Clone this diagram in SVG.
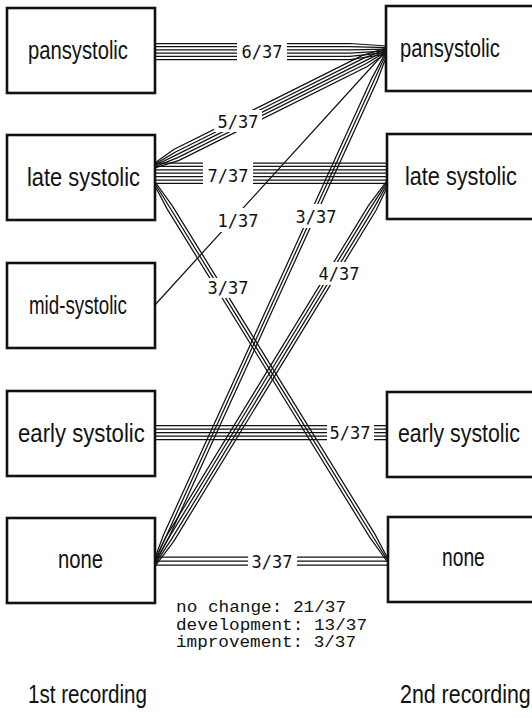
<svg xmlns="http://www.w3.org/2000/svg" width="532" height="718" viewBox="0 0 532 718">
<style>
.box{fill:#fff;stroke:#111;stroke-width:2.6}
.lab{font-family:"Liberation Sans",Arial,sans-serif;font-size:25px;fill:#111}
.num{font-family:"DejaVu Sans Mono","Liberation Mono",monospace;font-size:17px;fill:#111;text-anchor:middle}
.note{font-family:"Liberation Mono","Courier New",monospace;font-size:16px;fill:#111}
.ln{fill:none;stroke:#111;stroke-width:1.25}
</style>
<defs>
<mask id="gaps" maskUnits="userSpaceOnUse" x="0" y="0" width="532" height="718">
<rect x="0" y="0" width="532" height="718" fill="#fff"/>
<rect x="237" y="38" width="50" height="28" fill="#000"/>
<rect x="214" y="110" width="48" height="22" fill="#000"/>
<rect x="203" y="158" width="50" height="30" fill="#000"/>
<rect x="214" y="208" width="48" height="24" fill="#000"/>
<rect x="293" y="204" width="47" height="24" fill="#000"/>
<rect x="204" y="278" width="48" height="20" fill="#000"/>
<rect x="314" y="262" width="50" height="23" fill="#000"/>
<rect x="327" y="420" width="47" height="25" fill="#000"/>
<rect x="248" y="552" width="49" height="18" fill="#000"/>
</mask>
</defs>
<rect width="532" height="718" fill="#fff"/>
<g id="connectors">
<g mask="url(#gaps)">
<!-- 6/37 pansystolic -> pansystolic -->
<polyline class="ln" points="154,43.5 350,43.5 387,46"/>
<polyline class="ln" points="154,46.7 350,46.7 387,47.6"/>
<polyline class="ln" points="154,49.9 350,49.9 387,49.2"/>
<polyline class="ln" points="154,53.1 350,53.1 387,50.8"/>
<polyline class="ln" points="154,56.3 350,56.3 387,52.4"/>
<polyline class="ln" points="154,59.5 350,59.5 387,54"/>
<!-- 5/37 late -> pansystolic -->
<polyline class="ln" points="153.1,164.2 173.7,149.5 361.9,55.7 386.1,48.2"/>
<polyline class="ln" points="153.55,165.1 175.1,152.2 363.3,58.4 386.55,49.1"/>
<polyline class="ln" points="154,166 176.4,154.9 364.6,61.1 387,50"/>
<polyline class="ln" points="154.45,166.9 177.7,157.6 365.9,63.8 387.45,50.9"/>
<polyline class="ln" points="154.9,167.8 179.1,160.3 367.3,66.5 387.9,51.8"/>
<!-- 7/37 late -> late -->
<line class="ln" x1="154" y1="163" x2="388" y2="163"/>
<line class="ln" x1="154" y1="166.4" x2="388" y2="166.4"/>
<line class="ln" x1="154" y1="169.8" x2="388" y2="169.8"/>
<line class="ln" x1="154" y1="173.2" x2="388" y2="173.2"/>
<line class="ln" x1="154" y1="176.6" x2="388" y2="176.6"/>
<line class="ln" x1="154" y1="180" x2="388" y2="180"/>
<line class="ln" x1="154" y1="183.4" x2="388" y2="183.4"/>
<!-- 1/37 mid -> pansystolic -->
<line class="ln" x1="154" y1="306" x2="387" y2="50"/>
<!-- 3/37 none -> pansystolic -->
<polyline class="ln" points="153.1,562.6 163.7,534.5 371.9,78.1 386.1,51.6"/>
<polyline class="ln" points="154,563 166.4,535.7 374.6,79.3 387,52"/>
<polyline class="ln" points="154.9,563.4 169.1,536.9 377.3,80.5 387.9,52.4"/>
<!-- 4/37 none -> late -->
<polyline class="ln" points="152.7,564.2 165.8,537.1 368.6,205.3 386.7,181.2"/>
<polyline class="ln" points="153.6,564.7 168.3,538.6 371.1,206.8 387.6,181.7"/>
<polyline class="ln" points="154.4,565.3 170.9,540.2 373.7,208.4 388.4,182.3"/>
<polyline class="ln" points="155.3,565.8 173.4,541.8 376.2,210 389.3,182.8"/>
<!-- 3/37 late -> none -->
<polyline class="ln" points="154.85,181.5 172.35,205.9 374.75,533.9 388.85,560.5"/>
<polyline class="ln" points="154,182 169.8,207.5 372.2,535.5 388,561"/>
<polyline class="ln" points="153.15,182.5 167.25,209.1 369.65,537.1 387.15,561.5"/>
<!-- 5/37 early -> early -->
<line class="ln" x1="154" y1="425.5" x2="388" y2="425.5"/>
<line class="ln" x1="154" y1="429" x2="388" y2="429"/>
<line class="ln" x1="154" y1="432.5" x2="388" y2="432.5"/>
<line class="ln" x1="154" y1="436" x2="388" y2="436"/>
<line class="ln" x1="154" y1="439.5" x2="388" y2="439.5"/>
<!-- 3/37 none -> none -->
<line class="ln" x1="154" y1="557" x2="388" y2="557"/>
<line class="ln" x1="154" y1="561" x2="388" y2="561"/>
<line class="ln" x1="154" y1="565" x2="388" y2="565"/>
</g>
<g id="connector-labels">
<text class="num" x="262" y="57.5">6/37</text>
<text class="num" x="238" y="128">5/37</text>
<text class="num" x="228" y="182">7/37</text>
<text class="num" x="238" y="227">1/37</text>
<text class="num" x="316" y="223">3/37</text>
<text class="num" x="228" y="294">3/37</text>
<text class="num" x="339" y="280">4/37</text>
<text class="num" x="350" y="439">5/37</text>
<text class="num" x="272" y="568">3/37</text>
</g>
</g>
<g id="first-pansystolic"><rect class="box" x="7" y="8" width="148" height="85"/><text class="lab" transform="translate(28,59) scale(0.809,1)">pansystolic</text></g>
<g id="first-late-systolic"><rect class="box" x="7" y="135" width="148" height="85"/><text class="lab" transform="translate(27,186) scale(0.875,1)">late systolic</text></g>
<g id="first-mid-systolic"><rect class="box" x="7" y="263" width="148" height="85"/><text class="lab" transform="translate(29,314) scale(0.75,1)">mid-systolic</text></g>
<g id="first-early-systolic"><rect class="box" x="7" y="391" width="148" height="85"/><text class="lab" transform="translate(18,442) scale(0.887,1)">early systolic</text></g>
<g id="first-none"><rect class="box" x="7" y="518" width="148" height="85"/><text class="lab" transform="translate(58,568) scale(0.81,1)">none</text></g>
<g id="second-pansystolic"><rect class="box" x="386" y="6" width="170" height="85"/><text class="lab" transform="translate(400,57) scale(0.809,1)">pansystolic</text></g>
<g id="second-late-systolic"><rect class="box" x="387" y="134" width="170" height="85"/><text class="lab" transform="translate(405,185) scale(0.867,1)">late systolic</text></g>
<g id="second-early-systolic"><rect class="box" x="387" y="392" width="170" height="85"/><text class="lab" transform="translate(398,442) scale(0.853,1)">early systolic</text></g>
<g id="second-none"><rect class="box" x="388" y="517" width="170" height="85"/><text class="lab" transform="translate(442,566) scale(0.77,1)">none</text></g>
<g id="summary">
<text class="note" x="176" y="612" textLength="170" lengthAdjust="spacingAndGlyphs">no change: 21/37</text>
<text class="note" x="176" y="629.5" textLength="191" lengthAdjust="spacingAndGlyphs">development: 13/37</text>
<text class="note" x="176" y="647" textLength="180" lengthAdjust="spacingAndGlyphs">improvement: 3/37</text>
</g>
<g id="axis-labels">
<text class="lab" transform="translate(28,703) scale(0.824,1)">1st recording</text>
<text class="lab" transform="translate(400,703) scale(0.856,1)">2nd recording</text>
</g>
</svg>
